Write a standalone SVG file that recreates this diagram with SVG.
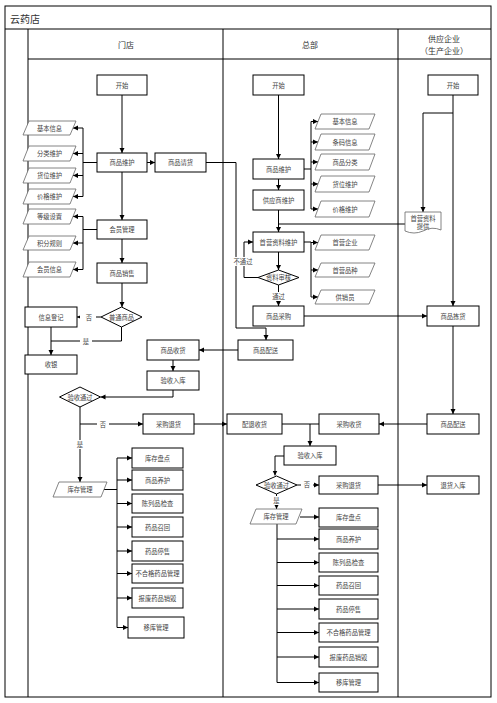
<svg xmlns="http://www.w3.org/2000/svg" width="497" height="703" viewBox="0 0 497 703">
<style>
.b{fill:#fff;stroke:#000;stroke-width:1}
.p{fill:#fff;stroke:#666;stroke-width:0.8}
.f{fill:none;stroke:#000;stroke-width:1}
.t{font-family:"Noto Sans CJK SC",sans-serif;font-size:6.3px;fill:#444;text-anchor:middle;dominant-baseline:central}
.h{font-family:"Noto Sans CJK SC",sans-serif;font-size:8px;fill:#333;text-anchor:middle;dominant-baseline:central}
.c{fill:none;stroke:#000;stroke-width:1}
.a{marker-end:url(#m)}
</style>
<defs>
<marker id="m" markerWidth="6" markerHeight="6" refX="5" refY="3" orient="auto" markerUnits="userSpaceOnUse"><path d="M0,0.5 L5,3 L0,5.5Z" fill="#000"/></marker>
</defs>
<rect x="0" y="0" width="497" height="703" fill="#fff"/>
<g id="frame">
<rect class="f" x="5" y="6" width="486" height="691"/>
<line class="f" x1="5" y1="29" x2="491" y2="29"/>
<line class="f" x1="28" y1="29" x2="28" y2="697"/>
<line class="f" x1="28" y1="59" x2="491" y2="59"/>
<line class="f" x1="223" y1="29" x2="223" y2="697"/>
<line class="f" x1="398" y1="29" x2="398" y2="697"/>
<text x="10" y="18" style="font-family:'Noto Sans CJK SC',sans-serif;font-size:10px;fill:#333;dominant-baseline:central">云药店</text>
<text class="h" x="126" y="44">门店</text>
<text class="h" x="310" y="44">总部</text>
<text class="h" x="444" y="38">供应企业</text>
<text class="h" x="444" y="50">（生产企业）</text>
</g>
<g id="connectors">
<path class="c a" d="M122,95V153"/>
<path class="c a" d="M147,162.5H155"/>
<path class="c" d="M97,162.5H83M83,128V196.5"/>
<path class="c a" d="M83,128H73"/><path class="c a" d="M83,153.5H73"/><path class="c a" d="M83,175.5H73"/><path class="c a" d="M83,196.5H73"/>
<path class="c a" d="M122,172V220"/>
<path class="c" d="M97,229.5H83M83,216.5V269.5"/>
<path class="c a" d="M83,216.5H73"/><path class="c a" d="M83,243H73"/><path class="c a" d="M83,269.5H73"/>
<path class="c a" d="M122,239V263"/>
<path class="c a" d="M122,283V307"/>
<path class="c a" d="M101,317H77"/>
<path class="c" d="M121.5,327V341H51"/>
<path class="c a" d="M51,327V355"/>
<path class="c a" d="M206,162.5H236V328H266V340"/>
<path class="c a" d="M238,350H199"/>
<path class="c a" d="M173,360V371"/>
<path class="c a" d="M173,390V397H100.5"/>
<path class="c a" d="M80,407V482"/>
<path class="c a" d="M80,424H143"/>
<path class="c a" d="M194,424H227"/>
<path class="c" d="M104,489.5H117M117,458V627.5"/>
<path class="c a" d="M117,458H132"/><path class="c a" d="M117,480H132"/><path class="c a" d="M117,503.5H132"/><path class="c a" d="M117,527H132"/><path class="c a" d="M117,551H132"/><path class="c a" d="M117,573.5H132"/><path class="c a" d="M117,598H132"/><path class="c a" d="M117,627.5H128"/>
<path class="c a" d="M278.5,95V159"/>
<path class="c a" d="M278.5,179V190"/>
<path class="c" d="M304,169H311M311,121.5V209"/>
<path class="c a" d="M311,121.5H318"/><path class="c a" d="M311,142H318"/><path class="c a" d="M311,162H318"/><path class="c a" d="M311,184H318"/><path class="c a" d="M311,209H318"/>
<path class="c a" d="M278.5,210V232"/>
<path class="c" d="M405,224H278.5"/>
<path class="c a" d="M278.5,252V270"/>
<path class="c a" d="M258,277.5H244V242H253"/>
<path class="c a" d="M278.5,285V306"/>
<path class="c" d="M304,242H311M311,242V297"/>
<path class="c a" d="M311,242.5H318"/><path class="c a" d="M311,270H318"/><path class="c a" d="M311,297H318"/>
<path class="c a" d="M304,316H427"/>
<path class="c a" d="M453,326V414"/>
<path class="c a" d="M427,424H379"/>
<path class="c" d="M282,424H319"/>
<path class="c a" d="M310,424V446"/>
<path class="c a" d="M284,456H275V475.5"/>
<path class="c a" d="M297,485H319"/>
<path class="c a" d="M378,485H427"/>
<path class="c a" d="M276.5,494V509"/>
<path class="c a" d="M300,517H319"/>
<path class="c" d="M277,524V682.5"/>
<path class="c a" d="M277,539H319"/><path class="c a" d="M277,562.5H319"/><path class="c a" d="M277,585.5H319"/><path class="c a" d="M277,609H319"/><path class="c a" d="M277,632.5H319"/><path class="c a" d="M277,657H319"/><path class="c a" d="M277,682.5H319"/>
<path class="c" d="M453,95V113H423"/>
<path class="c a" d="M423,113V212"/>
<path class="c a" d="M453,113V306"/>
<rect x="80" y="313" width="16" height="9" fill="#fff"/><text class="t" x="89" y="317">否</text>
<rect x="80" y="337" width="12" height="9" fill="#fff"/><text class="t" x="86" y="341">是</text>
<rect x="74" y="440" width="12" height="9" fill="#fff"/><text class="t" x="80" y="444">是</text>
<rect x="97" y="420" width="12" height="9" fill="#fff"/><text class="t" x="103" y="424">否</text>
<rect x="233" y="257" width="20" height="9" fill="#fff"/><text class="t" x="243" y="261.5">不通过</text>
<rect x="271" y="292" width="15" height="9" fill="#fff"/><text class="t" x="278.5" y="296.5">通过</text>
<rect x="301" y="480" width="12" height="9" fill="#fff"/><text class="t" x="307" y="484">否</text>
<rect x="270" y="496" width="12" height="9" fill="#fff"/><text class="t" x="276.5" y="500">是</text>
</g>
<g id="md-start"><rect class="b" x="97" y="75" width="50" height="20"/><text class="t" x="122" y="85">开始</text></g>
<g id="md-goods"><rect class="b" x="97" y="153" width="50" height="19"/><text class="t" x="122" y="162.5">商品维护</text></g>
<g id="md-request"><rect class="b" x="155" y="153" width="51" height="19"/><text class="t" x="180.5" y="162.5">商品请货</text></g>
<g id="md-member"><rect class="b" x="97" y="220" width="50" height="19"/><text class="t" x="122" y="229.5">会员管理</text></g>
<g id="md-sale"><rect class="b" x="97" y="263" width="50" height="20"/><text class="t" x="122" y="273">商品销售</text></g>
<g id="md-p1"><polygon class="p" points="29,121 76,121 70,135 23,135"/><text class="t" x="49.5" y="128">基本信息</text></g>
<g id="md-p2"><polygon class="p" points="29,146 76,146 70,161 23,161"/><text class="t" x="49.5" y="153.5">分类维护</text></g>
<g id="md-p3"><polygon class="p" points="29,168 76,168 70,183 23,183"/><text class="t" x="49.5" y="175.5">货位维护</text></g>
<g id="md-p4"><polygon class="p" points="29,189 76,189 70,204 23,204"/><text class="t" x="49.5" y="196.5">价格维护</text></g>
<g id="md-p5"><polygon class="p" points="29,209 76,209 70,224 23,224"/><text class="t" x="49.5" y="216.5">等级设置</text></g>
<g id="md-p6"><polygon class="p" points="29,236 76,236 70,250 23,250"/><text class="t" x="49.5" y="243">积分规则</text></g>
<g id="md-p7"><polygon class="p" points="29,262 76,262 70,277 23,277"/><text class="t" x="49.5" y="269.5">会员信息</text></g>
<g id="md-normal"><polygon class="b" points="121.5,307 142,317 121.5,327 101,317"/><text class="t" x="121.5" y="317">普通商品</text></g>
<g id="md-info"><rect class="b" x="25" y="307" width="52" height="20"/><text class="t" x="51" y="317">信息登记</text></g>
<g id="md-cash"><rect class="b" x="25" y="355" width="52" height="19"/><text class="t" x="51" y="364.5">收银</text></g>
<g id="md-receive"><rect class="b" x="147" y="340" width="52" height="20"/><text class="t" x="173" y="350">商品收货</text></g>
<g id="md-check"><rect class="b" x="147" y="371" width="52" height="19"/><text class="t" x="173" y="380.5">验收入库</text></g>
<g id="md-pass"><polygon class="b" points="80,387 100.5,397 80,407 59.5,397"/><text class="t" x="80" y="397">验收通过</text></g>
<g id="md-return"><rect class="b" x="143" y="414" width="51" height="20"/><text class="t" x="168.5" y="424">采购退货</text></g>
<g id="md-stock"><polygon class="p" points="59,482 107,482 101,497 53,497"/><text class="t" x="80" y="489.5">库存管理</text></g>
<g id="md-s1"><rect class="b" x="132" y="448" width="51" height="20"/><text class="t" x="157.5" y="458">库存盘点</text></g>
<g id="md-s2"><rect class="b" x="132" y="470" width="51" height="20"/><text class="t" x="157.5" y="480">商品养护</text></g>
<g id="md-s3"><rect class="b" x="132" y="494" width="51" height="19"/><text class="t" x="157.5" y="503.5">陈列品检查</text></g>
<g id="md-s4"><rect class="b" x="132" y="517" width="51" height="20"/><text class="t" x="157.5" y="527">药品召回</text></g>
<g id="md-s5"><rect class="b" x="132" y="541" width="51" height="20"/><text class="t" x="157.5" y="551">药品停售</text></g>
<g id="md-s6"><rect class="b" x="132" y="564" width="51" height="19"/><text class="t" x="157.5" y="573.5">不合格药品管理</text></g>
<g id="md-s7"><rect class="b" x="132" y="588" width="51" height="20"/><text class="t" x="157.5" y="598">报废药品销毁</text></g>
<g id="md-s8"><rect class="b" x="128" y="617" width="56" height="21"/><text class="t" x="156" y="627.5">移库管理</text></g>
<g id="hq-start"><rect class="b" x="253" y="75" width="51" height="20"/><text class="t" x="278.5" y="85">开始</text></g>
<g id="hq-goods"><rect class="b" x="253" y="159" width="51" height="20"/><text class="t" x="278.5" y="169">商品维护</text></g>
<g id="hq-supplier"><rect class="b" x="253" y="190" width="51" height="20"/><text class="t" x="278.5" y="200">供应商维护</text></g>
<g id="hq-p1"><polygon class="p" points="321,114 375,114 369,129 315,129"/><text class="t" x="345" y="121.5">基本信息</text></g>
<g id="hq-p2"><polygon class="p" points="321,134 375,134 369,150 315,150"/><text class="t" x="345" y="142">条码信息</text></g>
<g id="hq-p3"><polygon class="p" points="321,154 375,154 369,170 315,170"/><text class="t" x="345" y="162">商品分类</text></g>
<g id="hq-p4"><polygon class="p" points="321,176 375,176 369,192 315,192"/><text class="t" x="345" y="184">货位维护</text></g>
<g id="hq-p5"><polygon class="p" points="321,201 375,201 369,217 315,217"/><text class="t" x="345" y="209">价格维护</text></g>
<g id="hq-first"><rect class="b" x="253" y="232" width="51" height="20"/><text class="t" x="278.5" y="242">首营资料维护</text></g>
<g id="hq-audit"><polygon class="b" points="278.5,270 299,277.5 278.5,285 258,277.5"/><text class="t" x="278.5" y="277.5">资料审核</text></g>
<g id="hq-p6"><polygon class="p" points="321,235 375,235 369,250 315,250"/><text class="t" x="345" y="242.5">首营企业</text></g>
<g id="hq-p7"><polygon class="p" points="321,263 375,263 369,277 315,277"/><text class="t" x="345" y="270">首营品种</text></g>
<g id="hq-p8"><polygon class="p" points="321,290 375,290 369,304 315,304"/><text class="t" x="345" y="297">供销员</text></g>
<g id="hq-purchase"><rect class="b" x="253" y="306" width="51" height="20"/><text class="t" x="278.5" y="316">商品采购</text></g>
<g id="hq-deliver"><rect class="b" x="238" y="340" width="55" height="20"/><text class="t" x="265.5" y="350">商品配送</text></g>
<g id="hq-retrecv"><rect class="b" x="227" y="414" width="55" height="20"/><text class="t" x="254.5" y="424">配退收货</text></g>
<g id="hq-precv"><rect class="b" x="319" y="414" width="60" height="20"/><text class="t" x="349" y="424">采购收货</text></g>
<g id="hq-check"><rect class="b" x="284" y="446" width="52" height="19"/><text class="t" x="310" y="455.5">验收入库</text></g>
<g id="hq-pass"><polygon class="b" points="276.5,476 297,485 276.5,494 256,485"/><text class="t" x="276.5" y="485">验收通过</text></g>
<g id="hq-return"><rect class="b" x="319" y="476" width="59" height="18"/><text class="t" x="348.5" y="485">采购退货</text></g>
<g id="hq-stock"><polygon class="p" points="256,509 302,509 296,524 250,524"/><text class="t" x="276" y="516.5">库存管理</text></g>
<g id="hq-s1"><rect class="b" x="319" y="508" width="59" height="19"/><text class="t" x="348.5" y="517.5">库存盘点</text></g>
<g id="hq-s2"><rect class="b" x="319" y="529" width="59" height="20"/><text class="t" x="348.5" y="539">商品养护</text></g>
<g id="hq-s3"><rect class="b" x="319" y="553" width="59" height="19"/><text class="t" x="348.5" y="562.5">陈列品检查</text></g>
<g id="hq-s4"><rect class="b" x="319" y="576" width="59" height="19"/><text class="t" x="348.5" y="585.5">药品召回</text></g>
<g id="hq-s5"><rect class="b" x="319" y="599" width="59" height="20"/><text class="t" x="348.5" y="609">药品停售</text></g>
<g id="hq-s6"><rect class="b" x="319" y="623" width="59" height="19"/><text class="t" x="348.5" y="632.5">不合格药品管理</text></g>
<g id="hq-s7"><rect class="b" x="319" y="647" width="59" height="20"/><text class="t" x="348.5" y="657">报废药品销毁</text></g>
<g id="hq-s8"><rect class="b" x="319" y="673" width="59" height="19"/><text class="t" x="348.5" y="682.5">移库管理</text></g>
<g id="sp-start"><rect class="b" x="428" y="75" width="50" height="20"/><text class="t" x="453" y="85">开始</text></g>
<g id="sp-doc"><path class="p" d="M405,212H441V230Q432,226 423,231Q414,235 405,231Z"/><text class="t" x="423" y="218.5">首营资料</text><text class="t" x="423" y="226">提供</text></g>
<g id="sp-pick"><rect class="b" x="427" y="306" width="52" height="20"/><text class="t" x="453" y="316">商品拣货</text></g>
<g id="sp-deliver"><rect class="b" x="427" y="414" width="52" height="20"/><text class="t" x="453" y="424">商品配送</text></g>
<g id="sp-retin"><rect class="b" x="427" y="476" width="52" height="18"/><text class="t" x="453" y="485">退货入库</text></g>
</svg>
